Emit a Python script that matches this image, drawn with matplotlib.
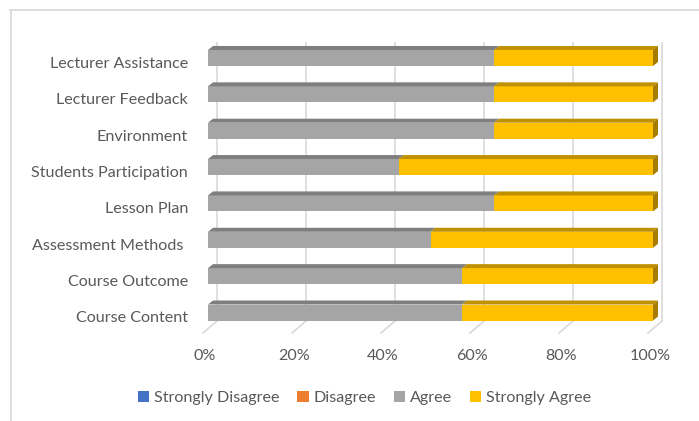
import matplotlib.pyplot as plt
from matplotlib.patches import Polygon, Patch
from matplotlib.lines import Line2D

categories = ["Course Content", "Course Outcome", "Assessment Methods ", "Lesson Plan",
              "Students Participation", "Environment", "Lecturer Feedback", "Lecturer Assistance"]
strongly_disagree = [0, 0, 0, 0, 0, 0, 0, 0]
disagree = [0, 0, 0, 0, 0, 0, 0, 0]
agree = [57.1, 57.1, 50.0, 64.3, 42.9, 64.3, 64.3, 64.3]
strongly_agree = [42.9, 42.9, 50.0, 35.7, 57.1, 35.7, 35.7, 35.7]
series_names = ["Strongly Disagree", "Disagree", "Agree", "Strongly Agree"]
xticks = [0, 20, 40, 60, 80, 100]

series = [strongly_disagree, disagree, agree, strongly_agree]
colors = ["#4472C4", "#ED7D31", "#A5A5A5", "#FFC000"]
top_colors = ["#2F5597", "#C55A11", "#7F7F7F", "#BF9000"]
side_colors = ["#203864", "#843C0C", "#6E6E6E", "#A67C00"]
text_color = "#595959"
font = "Lato"
fs = 11.6

W, H = 699, 421
fig = plt.figure(figsize=(W / 100, H / 100), dpi=100)

# pixel layout of the front plane
x0_px, x1_px = 208, 653
yc0_px, step_px = 312.5, 36.36
ylim = (-0.9, 7.7)
top_px = yc0_px - step_px * ylim[1]
bot_px = yc0_px - step_px * ylim[0]
ax = fig.add_axes([x0_px / W, 1 - bot_px / H, (x1_px - x0_px) / W, (bot_px - top_px) / H])
ax.set_xlim(0, 100)
ax.set_ylim(*ylim)
ax.axis("off")

px_x = 100 / (x1_px - x0_px)
px_y = 1 / step_px
dx, dy = 5 * px_x, 4 * px_y
bh = 16 * px_y

# back wall gridlines and floor
grid_top = (yc0_px - 43) * px_y
grid_bot = (yc0_px - 321) * px_y
floor_front = (yc0_px - 333) * px_y
for v in xticks:
    xb = v + 9 * px_x
    xf = v - 5 * px_x
    ax.plot([xb, xb], [grid_bot, grid_top], color="#D9D9D9", lw=1.2, zorder=1, clip_on=False)
    ax.plot([xb, xf], [grid_bot, floor_front], color="#D9D9D9", lw=1.2, zorder=1, clip_on=False)
    ax.text(v - 0.7, (yc0_px - 356) * px_y, f"{v}%", ha="center", va="center",
            fontsize=fs, color=text_color, family=font, clip_on=False)

ys = list(range(len(categories)))
for i, y in enumerate(ys):
    left = 0
    last = None
    for s, vals in enumerate(series):
        w = vals[i]
        if w <= 0:
            continue
        ax.barh(y, w, left=left, height=bh, color=colors[s], zorder=3)
        top = y + bh / 2
        ax.add_patch(Polygon([(left, top), (left + w, top), (left + w + dx, top + dy), (left + dx, top + dy)],
                             closed=True, facecolor=top_colors[s], edgecolor="none", zorder=3,
                             clip_on=False))
        left += w
        last = s
    if last is not None:
        ax.add_patch(Polygon([(left, y - bh / 2), (left, y + bh / 2), (left + dx, y + bh / 2 + dy),
                              (left + dx, y - bh / 2 + dy)],
                             closed=True, facecolor=side_colors[last], edgecolor="none", zorder=3,
                             clip_on=False))
    ax.text(-20 * px_x, y - 6 * px_y, categories[i], ha="right", va="center",
            fontsize=fs, color=text_color, family=font, clip_on=False)

handles = [Patch(facecolor=c, edgecolor="none") for c in colors]
fig.legend(handles, series_names, loc="center", bbox_to_anchor=(364.5 / W, 1 - 398 / H), ncol=4,
           frameon=False, handlelength=0.7, handleheight=0.7, handletextpad=0.3, columnspacing=1.1,
           prop={"family": font, "size": fs}, labelcolor=text_color)

# chart border (left and top visible)
fig.add_artist(Line2D([10.5 / W, 10.5 / W], [0, 1 - 9.5 / H], color="#D9D9D9", lw=1.2))
fig.add_artist(Line2D([10 / W, 1], [1 - 9.5 / H, 1 - 9.5 / H], color="#D9D9D9", lw=1.2))

fig.savefig("out.png", dpi=100)
